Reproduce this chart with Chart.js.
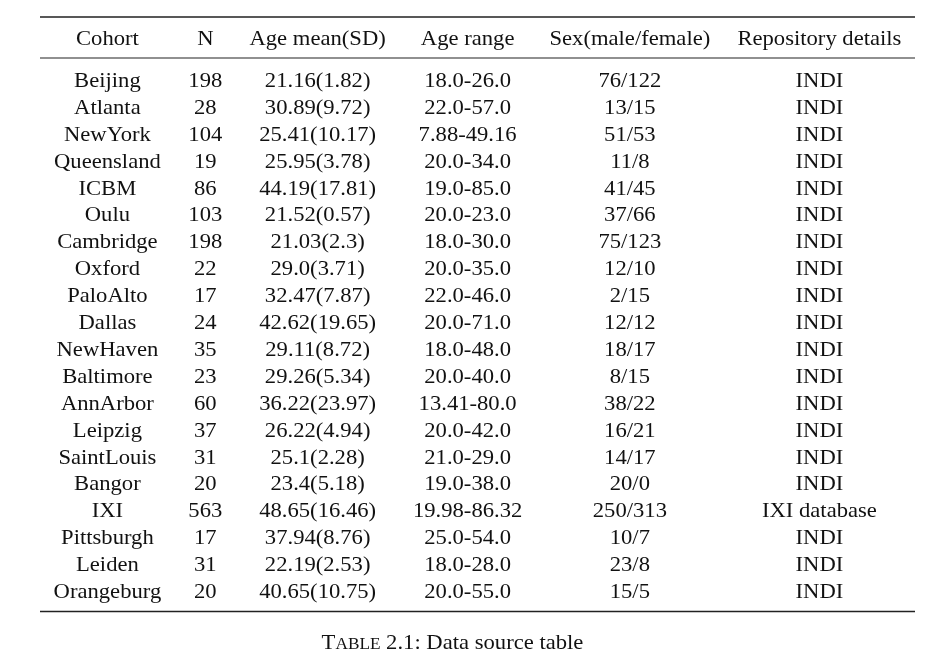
<!DOCTYPE html>
<html>
<head>
<meta charset="utf-8">
<script src="https://cdn.jsdelivr.net/npm/chart.js@4"></script>
<style>
  html, body { margin: 0; padding: 0; background: #fff; }
  #wrap { width: 950px; height: 668px; }
</style>
</head>
<body>
<div id="wrap"><canvas id="tabla"></canvas></div>
<script>
// Datos de la tabla
const columnHeaders = ["Cohort", "N", "Age mean(SD)", "Age range", "Sex(male/female)", "Repository details"];
const cohorts = ["Beijing", "Atlanta", "NewYork", "Queensland", "ICBM", "Oulu", "Cambridge", "Oxford", "PaloAlto", "Dallas",
  "NewHaven", "Baltimore", "AnnArbor", "Leipzig", "SaintLouis", "Bangor", "IXI", "Pittsburgh", "Leiden", "Orangeburg"];
const sampleSizes = [198, 28, 104, 19, 86, 103, 198, 22, 17, 24, 35, 23, 60, 37, 31, 20, 563, 17, 31, 20];
const ageMeans = ["21.16", "30.89", "25.41", "25.95", "44.19", "21.52", "21.03", "29.0", "32.47", "42.62",
  "29.11", "29.26", "36.22", "26.22", "25.1", "23.4", "48.65", "37.94", "22.19", "40.65"];
const ageSDs = ["1.82", "9.72", "10.17", "3.78", "17.81", "0.57", "2.3", "3.71", "7.87", "19.65",
  "8.72", "5.34", "23.97", "4.94", "2.28", "5.18", "16.46", "8.76", "2.53", "10.75"];
const ageMins = ["18.0", "22.0", "7.88", "20.0", "19.0", "20.0", "18.0", "20.0", "22.0", "20.0",
  "18.0", "20.0", "13.41", "20.0", "21.0", "19.0", "19.98", "25.0", "18.0", "20.0"];
const ageMaxs = ["26.0", "57.0", "49.16", "34.0", "85.0", "23.0", "30.0", "35.0", "46.0", "71.0",
  "48.0", "40.0", "80.0", "42.0", "29.0", "38.0", "86.32", "54.0", "28.0", "55.0"];
const males = [76, 13, 51, 11, 41, 37, 75, 12, 2, 12, 18, 8, 38, 16, 14, 20, 250, 10, 23, 15];
const females = [122, 15, 53, 8, 45, 66, 123, 10, 15, 12, 17, 15, 22, 21, 17, 0, 313, 7, 8, 5];
const repositories = ["INDI", "INDI", "INDI", "INDI", "INDI", "INDI", "INDI", "INDI", "INDI", "INDI",
  "INDI", "INDI", "INDI", "INDI", "INDI", "INDI", "IXI database", "INDI", "INDI", "INDI"];
const captionLabel = "Table";
const captionText = " 2.1: Data source table";

// Estilo
const FONT_SIZE = 21;
const FONT = FONT_SIZE + "px 'Liberation Serif'";
const INK = "#111";

// Celdas como texto (filas x columnas)
const rows = cohorts.map((c, i) => [
  c,
  String(sampleSizes[i]),
  ageMeans[i] + "(" + ageSDs[i] + ")",
  ageMins[i] + "-" + ageMaxs[i],
  males[i] + "/" + females[i],
  repositories[i]
]);

// Anchura de columnas al estilo LaTeX: contenido mas ancho + 2*tabcolsep
const measureCtx = document.createElement("canvas").getContext("2d");
measureCtx.font = FONT;
const sep = 0.6 * FONT_SIZE;
const colWidths = columnHeaders.map((h, j) =>
  Math.max(measureCtx.measureText(h).width, ...rows.map(r => measureCtx.measureText(r[j]).width)) + 2 * sep
);
const colCenters = [];
let acc = 0;
colWidths.forEach(w => { colCenters.push(acc + w / 2); acc += w; });
const tableWidth = acc;

// Plugin: dibuja la tabla usando las escalas
const tablePlugin = {
  id: "tableText",
  afterDraw(chart) {
    const { ctx, chartArea, scales: { x, y } } = chart;
    const stretch = (x.getPixelForValue(tableWidth) - x.getPixelForValue(0)) / tableWidth;

    function drawText(txt, px, py, font) {
      ctx.save();
      ctx.font = font || FONT;
      ctx.translate(px, py);
      ctx.scale(stretch, 1);
      ctx.fillText(txt, 0, 0);
      ctx.restore();
    }

    ctx.save();
    ctx.fillStyle = INK;
    ctx.textAlign = "center";
    ctx.textBaseline = "alphabetic";

    // Cabecera
    const headY = chartArea.top - 28.5;
    columnHeaders.forEach((h, j) => drawText(h, x.getPixelForValue(colCenters[j]), headY));

    // Filas
    rows.forEach((r, i) => {
      const py = y.getPixelForValue(i);
      r.forEach((cell, j) => drawText(cell, x.getPixelForValue(colCenters[j]), py));
    });

    // Reglas (booktabs)
    ctx.strokeStyle = "#222";
    ctx.lineWidth = 1.7;
    ctx.beginPath();
    ctx.moveTo(chartArea.left, chartArea.top - 56.5);
    ctx.lineTo(chartArea.right, chartArea.top - 56.5);
    ctx.moveTo(chartArea.left, chartArea.bottom);
    ctx.lineTo(chartArea.right, chartArea.bottom);
    ctx.stroke();
    ctx.lineWidth = 1.1;
    ctx.beginPath();
    ctx.moveTo(chartArea.left, chartArea.top - 15.5);
    ctx.lineTo(chartArea.right, chartArea.top - 15.5);
    ctx.stroke();

    // Pie: "TABLE" en versalitas
    const capY = chartArea.bottom + 37;
    const bigFont = FONT;
    const smallFont = Math.round(FONT_SIZE * 0.78) + "px 'Liberation Serif'";
    ctx.font = bigFont;
    const wT = ctx.measureText(captionLabel[0]).width;
    const wRest = ctx.measureText(captionText).width;
    ctx.font = smallFont;
    const wSmall = ctx.measureText(captionLabel.slice(1).toUpperCase()).width;
    const total = (wT + wSmall + wRest) * stretch;
    let cx = (chartArea.left + chartArea.right) / 2 - 25 - total / 2;
    ctx.textAlign = "left";
    drawText(captionLabel[0], cx, capY, bigFont);
    cx += wT * stretch;
    drawText(captionLabel.slice(1).toUpperCase(), cx, capY, smallFont);
    cx += wSmall * stretch;
    drawText(captionText, cx, capY, bigFont);
    ctx.restore();
  }
};

function renderTabla() {
  const ctx = document.getElementById("tabla");
  new Chart(ctx, {
    type: "scatter",
    data: { datasets: [] },
    options: {
      responsive: true,
      maintainAspectRatio: false,
      animation: false,
      layout: { padding: { left: 40, right: 35, top: 73.5, bottom: 56.5 } },
      plugins: { legend: { display: false }, tooltip: { enabled: false } },
      scales: {
        x: { type: "linear", min: 0, max: tableWidth, display: false },
        y: { type: "category", labels: cohorts, offset: true, display: false }
      }
    },
    plugins: [tablePlugin]
  });
}

document.addEventListener("DOMContentLoaded", renderTabla);
</script>
</body>
</html>
